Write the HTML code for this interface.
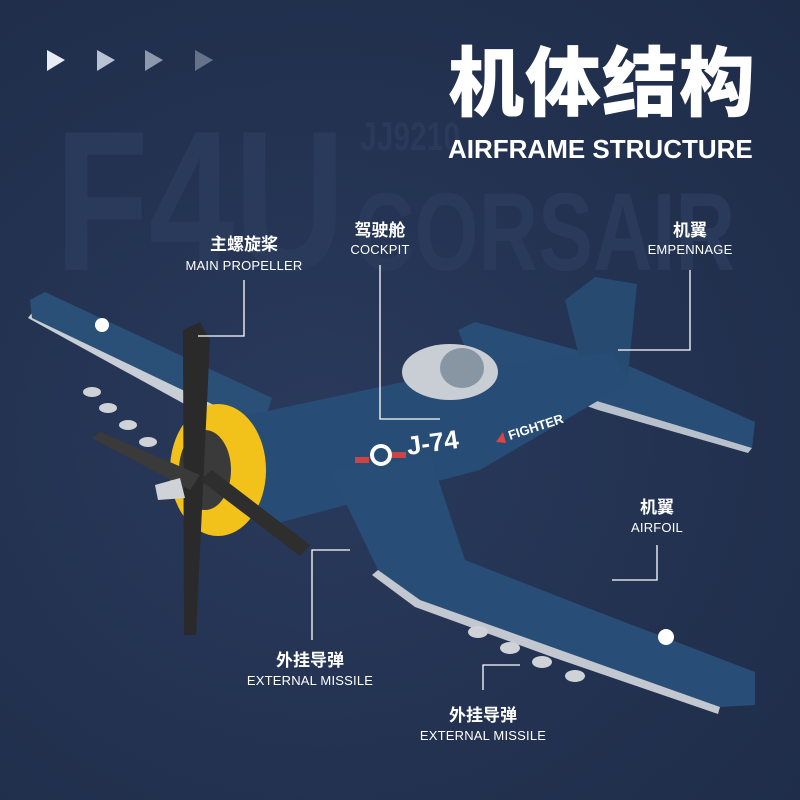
<!DOCTYPE html>
<html><head><meta charset="utf-8"><style>
html,body{margin:0;padding:0;background:#22314f;}
.w{position:relative;width:800px;height:800px;overflow:hidden;background:radial-gradient(ellipse at 40% 55%,#2a3a5c 0%,#22314f 60%,#1e2c48 100%);font-family:"Liberation Sans","Noto Sans CJK SC",sans-serif;}
.t{position:absolute;color:#fff;text-align:center;white-space:nowrap;}
.cn{font-weight:bold;font-size:17px;}
.en{font-size:13px;letter-spacing:0.2px;}
</style></head><body><div class="w">
<svg width="800" height="800" style="position:absolute;left:0;top:0">
<g fill="#2a3a5a" font-family="Liberation Sans,sans-serif" font-weight="bold">
<text x="55" y="270" font-size="200" textLength="290" lengthAdjust="spacingAndGlyphs">F4U</text>
<text x="355" y="270" font-size="110" textLength="380" lengthAdjust="spacingAndGlyphs">CORSAIR</text>
<text x="360" y="150" font-size="40" textLength="100" lengthAdjust="spacingAndGlyphs">JJ9210</text>
</g>
<g fill="#e8ecf3"><polygon points="47,50 65,60 47,71"/></g>
<g fill="#b9c2d2"><polygon points="97,50 115,60 97,71"/></g>
<g fill="#8d99ae"><polygon points="145,50 163,60 145,71"/></g>
<g fill="#66728a"><polygon points="195,50 213,60 195,71"/></g>
<polygon points="28,318 250,440 262,425 40,302" fill="#c9ced6"/>
<polygon points="30,300 45,292 272,398 262,428 32,318" fill="#2a5078"/>
<polygon points="458,330 475,322 620,362 755,422 752,448 600,405 470,360" fill="#284d76"/>
<polygon points="470,358 600,402 752,448 748,453 598,410 468,364" fill="#b8c0cc"/>
<polygon points="565,300 595,277 637,284 628,375 585,380" fill="#264a70"/>
<polygon points="225,420 450,372 612,352 630,382 480,470 270,525 230,500" fill="#274c76"/>
<polygon points="330,470 430,455 465,560 580,605 755,672 755,705 720,707 560,650 420,600 378,570" fill="#284e78"/>
<polygon points="378,570 420,600 560,650 720,707 718,714 555,658 415,607 372,575" fill="#c3c8d0"/>
<ellipse cx="450" cy="372" rx="48" ry="28" fill="#c9ced5"/>
<ellipse cx="462" cy="368" rx="22" ry="20" fill="#8895a3"/>
<g fill="#cfd3d8">
<ellipse cx="92" cy="392" rx="9" ry="5"/><ellipse cx="108" cy="408" rx="9" ry="5"/><ellipse cx="128" cy="425" rx="9" ry="5"/><ellipse cx="148" cy="442" rx="9" ry="5"/>
<ellipse cx="478" cy="632" rx="10" ry="6"/><ellipse cx="510" cy="648" rx="10" ry="6"/><ellipse cx="542" cy="662" rx="10" ry="6"/><ellipse cx="575" cy="676" rx="10" ry="6"/>
</g>
<ellipse cx="218" cy="470" rx="48" ry="66" fill="#f2c21a"/>
<ellipse cx="205" cy="470" rx="26" ry="40" fill="#3a3a3a"/>
<polygon points="183,330 200,322 210,340 196,635 184,635" fill="#2a2a2a"/>
<polygon points="92,438 100,432 200,475 190,490" fill="#3a3a3a"/>
<polygon points="200,480 212,470 310,545 300,556" fill="#2e2e2e"/>
<polygon points="155,485 180,478 185,498 158,500" fill="#cfd3d8"/>
<g fill="#fff" font-family="Liberation Sans,sans-serif" font-weight="bold">
<text x="408" y="455" font-size="26" transform="rotate(-8 408 455)">J-74</text>
<text x="510" y="440" font-size="13" transform="rotate(-18 510 440)">FIGHTER</text>
</g>
<circle cx="381" cy="455" r="11" fill="#fff"/><circle cx="381" cy="455" r="7" fill="#274c76"/>
<rect x="355" y="457" width="14" height="6" fill="#c44"/><rect x="392" y="452" width="14" height="6" fill="#c44"/>
<circle cx="102" cy="325" r="7" fill="#fff"/><circle cx="666" cy="637" r="8" fill="#fff"/>
<polygon points="496,442 503,432 506,443" fill="#d44"/>
<g stroke="#fff" stroke-width="1.3" fill="none">
<polyline points="244,280 244,336 198,336"/>
<polyline points="380,265 380,419 440,419"/>
<polyline points="690,270 690,350 618,350"/>
<polyline points="657,545 657,580 612,580"/>
<polyline points="312,640 312,550 350,550"/>
<polyline points="483,690 483,665 520,665"/>
</g>
</svg>
<div class="t" style="left:448px;top:39px;font-size:76px;font-weight:900;letter-spacing:1px;line-height:1.2;">机体结构</div>
<div class="t" style="left:448px;top:134px;font-size:26px;font-weight:bold;width:308px;text-align:left;">AIRFRAME STRUCTURE</div>
<div class="t cn" style="left:194px;top:230px;width:100px;">主螺旋桨</div>
<div class="t en" style="left:174px;top:258px;width:140px;">MAIN PROPELLER</div>
<div class="t cn" style="left:330px;top:216px;width:100px;">驾驶舱</div>
<div class="t en" style="left:330px;top:242px;width:100px;">COCKPIT</div>
<div class="t cn" style="left:640px;top:216px;width:100px;">机翼</div>
<div class="t en" style="left:630px;top:242px;width:120px;">EMPENNAGE</div>
<div class="t cn" style="left:607px;top:493px;width:100px;">机翼</div>
<div class="t en" style="left:607px;top:520px;width:100px;">AIRFOIL</div>
<div class="t cn" style="left:250px;top:646px;width:120px;">外挂导弹</div>
<div class="t en" style="left:230px;top:673px;width:160px;">EXTERNAL MISSILE</div>
<div class="t cn" style="left:423px;top:701px;width:120px;">外挂导弹</div>
<div class="t en" style="left:403px;top:728px;width:160px;">EXTERNAL MISSILE</div>
</div></body></html>
